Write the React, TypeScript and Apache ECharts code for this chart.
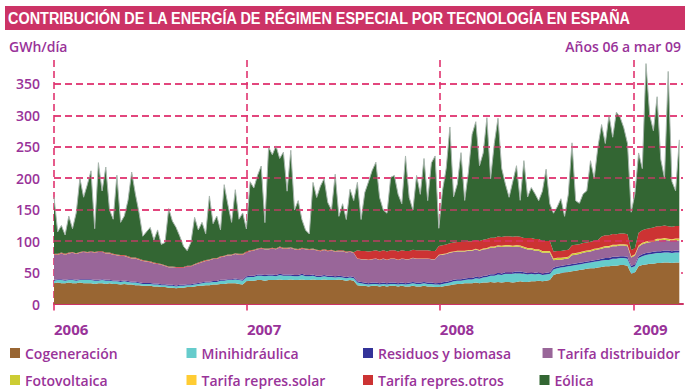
import React, { useEffect, useRef } from "react";
import * as echarts from "echarts";

// Weekly samples starting 2006-01-01
const DAY_MS = 86400000;
const START_MS = Date.UTC(2006, 0, 1);
const WEEK_MS = 7 * DAY_MS;
const X_MAX_DAYS = 1190;
const TITLE = "CONTRIBUCIÓN DE LA ENERGÍA DE RÉGIMEN ESPECIAL POR TECNOLOGÍA EN ESPAÑA";
const UNIT_LABEL = "GWh/día";
const PERIOD_LABEL = "Años 06 a mar 09";

const yearLabels = ["2006", "2007", "2008", "2009"];
const yearStartDays = [0, 365, 730, 1096];
const yTickValues = [0, 50, 100, 150, 200, 250, 300, 350];
const gridLevelsOver = [100, 150, 200, 250, 300, 350];

const seriesNames = [
  "Cogeneración",
  "Minihidráulica",
  "Residuos y biomasa",
  "Tarifa distribuidor",
  "Fotovoltaica",
  "Tarifa repres.solar",
  "Tarifa repres.otros",
  "Eólica",
];
const seriesColors = ["#996633", "#66cccc", "#333399", "#996699", "#cccc33", "#ffcc33", "#cc3333", "#336633"];

const cogeneracion = [
  33, 34, 33, 33, 34, 33, 33, 34, 33, 33,
  33, 32, 33, 33, 32, 33, 32, 32, 31, 32,
  31, 31, 30, 30, 29, 29, 29, 28, 28, 27,
  27, 26, 26, 25, 26, 26, 27, 27, 28, 29,
  29, 30, 30, 31, 31, 32, 32, 33, 33, 33,
  32, 31, 36, 37, 37, 38, 38, 37, 38, 38,
  38, 39, 38, 38, 39, 38, 38, 39, 38, 38,
  39, 38, 38, 39, 38, 38, 38, 39, 38, 37,
  38, 37, 30, 29, 29, 28, 29, 29, 28, 29,
  28, 29, 29, 28, 29, 28, 28, 29, 28, 28,
  29, 28, 28, 27, 27, 28, 29, 30, 31, 32,
  32, 33, 33, 33, 34, 33, 34, 34, 35, 34,
  35, 34, 35, 35, 34, 35, 36, 35, 35, 36,
  36, 37, 36, 37, 38, 46, 48, 49, 50, 51,
  52, 53, 54, 55, 56, 57, 57, 58, 59, 60,
  60, 61, 61, 62, 62, 61, 48, 50, 60, 62,
  63, 64, 64, 65, 65, 66, 66, 65, 66, 66,
];

const minihidraulica = [
  4, 4, 5, 4, 4, 5, 4, 4, 5, 5,
  5, 5, 4, 5, 5, 4, 4, 4, 4, 4,
  4, 3, 4, 3, 3, 3, 3, 3, 3, 3,
  3, 3, 3, 3, 3, 3, 3, 3, 3, 3,
  4, 4, 4, 4, 4, 5, 5, 5, 5, 6,
  6, 6, 6, 6, 6, 7, 7, 7, 7, 7,
  6, 7, 7, 7, 6, 6, 6, 7, 6, 6,
  6, 5, 5, 5, 5, 5, 4, 4, 4, 4,
  4, 4, 4, 4, 3, 3, 3, 3, 3, 3,
  3, 3, 3, 3, 3, 3, 4, 4, 4, 4,
  4, 4, 4, 4, 4, 4, 4, 4, 5, 5,
  5, 5, 6, 6, 7, 7, 8, 9, 10, 11,
  12, 12, 13, 13, 14, 14, 13, 13, 12, 12,
  11, 11, 10, 10, 10, 9, 9, 9, 9, 9,
  9, 9, 9, 9, 9, 9, 10, 10, 10, 10,
  10, 11, 11, 11, 11, 11, 10, 10, 13, 14,
  15, 15, 16, 16, 16, 16, 16, 16, 16, 16,
];

const residuos = [
  1.5, 1.5, 1.5, 1.5, 1.5, 1.5, 1.5, 1.5, 1.5, 1.5,
  1.5, 1.5, 1.5, 1.5, 1.5, 1.5, 1.5, 1.5, 1.5, 1.5,
  1.5, 1.5, 1.5, 1.5, 1.5, 1.5, 1.5, 1.5, 1.5, 1.5,
  1.5, 1.5, 1.5, 1.5, 1.5, 1.5, 1.5, 1.5, 1.5, 1.5,
  1.5, 1.5, 1.5, 1.5, 1.5, 1.5, 1.5, 1.5, 1.5, 1.5,
  1.5, 1.5, 2, 2, 2, 2, 2, 2, 2, 2,
  2, 2, 2, 2, 2, 2, 2, 2, 2, 2,
  2, 2, 2, 2, 2, 2, 2, 2, 2, 2,
  2, 2, 2, 2, 2, 2, 2, 2, 2, 2,
  2, 2, 2, 2, 2, 2, 2, 2, 2, 2,
  2, 2, 2, 2, 2.5, 2.5, 2.5, 2.5, 2.5, 2.5,
  2.5, 2.5, 2.5, 2.5, 2.5, 2.5, 2.5, 2.5, 2.5, 2.5,
  2.5, 2.5, 2.5, 2.5, 2.5, 2.5, 2.5, 2.5, 2.5, 2.5,
  2.5, 2.5, 2.5, 2.5, 2.5, 2.5, 2.5, 2.5, 2.5, 2.5,
  2.5, 2.5, 2.5, 2.5, 2.5, 2.5, 2.5, 2.5, 3, 3,
  3, 3, 3, 3, 3, 3, 3, 3, 3, 3,
  3, 3, 3, 3, 3, 3, 3, 3, 3, 3,
];

const tarifaDistribuidor = [
  40, 39, 41, 40, 41, 42, 41, 42, 43, 42,
  43, 43, 44, 43, 42, 42, 41, 40, 40, 39,
  38, 37, 37, 36, 35, 34, 33, 32, 31, 31,
  29, 28, 28, 28, 27, 27, 28, 28, 30, 31,
  32, 33, 34, 35, 35, 36, 37, 38, 38, 39,
  39, 40, 38, 39, 40, 40, 41, 41, 40, 41,
  41, 42, 41, 41, 42, 41, 40, 40, 41, 40,
  40, 40, 39, 40, 39, 40, 39, 39, 40, 39,
  39, 38, 36, 36, 37, 37, 37, 38, 37, 38,
  37, 38, 38, 37, 38, 38, 37, 38, 38, 38,
  37, 38, 37, 38, 44, 44, 44, 45, 44, 44,
  44, 43, 43, 43, 43, 42, 42, 42, 42, 42,
  42, 42, 41, 41, 40, 40, 39, 38, 37, 36,
  35, 34, 33, 32, 31, 12, 11, 10, 10, 10,
  14, 14, 14, 15, 15, 15, 16, 16, 16, 17,
  17, 17, 17, 17, 17, 17, 13, 14, 15, 16,
  16, 16, 16, 17, 17, 17, 16, 16, 16, 16,
];

const fotovoltaica = [
  0.2, 0.2, 0.2, 0.2, 0.2, 0.2, 0.2, 0.2, 0.2, 0.2,
  0.2, 0.2, 0.2, 0.2, 0.2, 0.2, 0.2, 0.2, 0.2, 0.2,
  0.2, 0.2, 0.2, 0.2, 0.2, 0.2, 0.2, 0.2, 0.2, 0.2,
  0.2, 0.2, 0.2, 0.2, 0.2, 0.2, 0.2, 0.2, 0.2, 0.2,
  0.2, 0.2, 0.2, 0.2, 0.2, 0.2, 0.2, 0.2, 0.2, 0.2,
  0.2, 0.2, 0.3, 0.3, 0.3, 0.3, 0.3, 0.3, 0.3, 0.3,
  0.3, 0.3, 0.3, 0.3, 0.3, 0.3, 0.3, 0.3, 0.3, 0.3,
  0.3, 0.3, 0.3, 0.3, 0.3, 0.3, 0.3, 0.3, 0.3, 0.3,
  0.3, 0.3, 0.3, 0.3, 0.3, 0.3, 0.3, 0.3, 0.3, 0.3,
  0.3, 0.3, 0.3, 0.3, 0.3, 0.3, 0.3, 0.3, 0.3, 0.3,
  0.3, 0.3, 0.3, 0.3, 0.5, 0.5, 0.6, 0.6, 0.7, 0.7,
  0.8, 0.8, 0.9, 1.0, 1.0, 1.1, 1.2, 1.3, 1.4, 1.5,
  1.6, 1.7, 1.8, 1.8, 1.9, 2.0, 2.0, 2.1, 2.2, 2.2,
  2.3, 2.3, 2.4, 2.4, 2.4, 2.5, 2.5, 2.5, 2.5, 2.4,
  2.4, 2.3, 2.2, 2.1, 2.0, 1.9, 1.8, 1.8, 1.7, 1.7,
  1.6, 1.6, 1.5, 1.5, 1.5, 1.5, 1.4, 1.5, 1.6, 1.7,
  1.7, 1.8, 1.9, 2.0, 2.1, 2.2, 2.2, 2.3, 2.4, 2.5,
];

const tarifaSolar = [
  0.1, 0.1, 0.1, 0.1, 0.1, 0.1, 0.1, 0.1, 0.1, 0.1,
  0.1, 0.1, 0.1, 0.1, 0.1, 0.1, 0.1, 0.1, 0.1, 0.1,
  0.1, 0.1, 0.1, 0.1, 0.1, 0.1, 0.1, 0.1, 0.1, 0.1,
  0.1, 0.1, 0.1, 0.1, 0.1, 0.1, 0.1, 0.1, 0.1, 0.1,
  0.1, 0.1, 0.1, 0.1, 0.1, 0.1, 0.1, 0.1, 0.1, 0.1,
  0.1, 0.1, 0.1, 0.1, 0.1, 0.1, 0.1, 0.1, 0.1, 0.1,
  0.1, 0.1, 0.1, 0.1, 0.1, 0.1, 0.1, 0.1, 0.1, 0.1,
  0.1, 0.1, 0.1, 0.1, 0.1, 0.1, 0.1, 0.1, 0.1, 0.1,
  0.1, 0.1, 0.1, 0.1, 0.1, 0.1, 0.1, 0.1, 0.1, 0.1,
  0.1, 0.1, 0.1, 0.1, 0.1, 0.1, 0.1, 0.1, 0.1, 0.1,
  0.1, 0.1, 0.1, 0.1, 0.4, 0.4, 0.4, 0.4, 0.4, 0.4,
  0.4, 0.4, 0.4, 0.4, 0.4, 0.4, 0.4, 0.4, 0.4, 0.4,
  0.4, 0.4, 0.4, 0.4, 0.4, 0.4, 0.4, 0.4, 0.4, 0.4,
  0.4, 0.4, 0.4, 0.4, 0.4, 0.4, 0.4, 0.4, 0.4, 0.4,
  0.4, 0.4, 0.4, 0.4, 0.4, 0.4, 0.4, 0.4, 0.6, 0.6,
  0.6, 0.6, 0.6, 0.6, 0.6, 0.6, 0.6, 0.6, 0.6, 0.6,
  0.6, 0.6, 0.6, 0.6, 0.6, 0.6, 0.6, 0.6, 0.6, 0.6,
];

const tarifaOtros = [
  1, 1, 1, 1, 1, 1, 1, 1, 1, 1,
  1, 1, 1, 1, 1, 1, 1, 1, 1, 1,
  1, 1, 1, 1, 1, 1, 1, 1, 1, 1,
  1, 1, 1, 1, 1, 1, 1, 1, 1, 1,
  1, 1, 1, 1, 1, 1, 1, 1, 1, 1,
  1, 1, 1, 1, 1, 1, 1, 1, 1, 1,
  1, 1, 1, 1, 1, 1, 1, 1, 1, 1,
  1, 1, 1, 1, 1, 1, 1, 1, 1, 1,
  1, 1, 13, 13, 13, 13, 13, 13, 13, 13,
  13, 13, 13, 13, 13, 13, 13, 13, 13, 13,
  13, 13, 13, 13, 14, 14, 14, 14, 14, 14,
  14, 14, 14, 14, 14, 14, 14, 14, 14, 14,
  14, 14, 14, 14, 14, 14, 14, 14, 16, 16,
  16, 16, 16, 16, 16, 11, 11, 11, 11, 11,
  13, 13, 13, 13, 13, 13, 13, 13, 17, 17,
  17, 17, 17, 17, 17, 17, 10, 10, 20, 20,
  20, 20, 20, 20, 20, 20, 20, 20, 20, 20,
];

const eolica = [
  90, 35, 43, 30, 58, 37, 64, 117, 86, 107,
  128, 37, 141, 96, 136, 68, 55, 126, 52, 62,
  89, 136, 101, 73, 38, 46, 54, 36, 53, 31,
  36, 92, 72, 63, 49, 33, 24, 37, 74, 52,
  62, 42, 101, 55, 67, 42, 113, 79, 51, 101,
  55, 65, 36, 109, 98, 116, 130, 41, 161, 148,
  163, 140, 152, 90, 154, 61, 77, 45, 29, 24,
  105, 83, 102, 112, 76, 63, 122, 54, 74, 51,
  98, 82, 108, 50, 93, 111, 128, 140, 86, 64,
  61, 116, 119, 91, 74, 151, 85, 63, 119, 89,
  146, 79, 140, 151, 28, 87, 121, 185, 73, 92,
  142, 66, 110, 170, 188, 120, 138, 193, 94, 150,
  188, 109, 83, 62, 88, 112, 58, 123, 65, 80,
  72, 61, 79, 114, 59, 61, 70, 83, 54, 88,
  163, 70, 65, 78, 82, 129, 99, 148, 178, 146,
  191, 154, 194, 185, 168, 144, 60, 86, 127, 98,
  263, 180, 154, 206, 106, 75, 246, 72, 56, 137,
];

const seriesValues = [
  cogeneracion,
  minihidraulica,
  residuos,
  tarifaDistribuidor,
  fotovoltaica,
  tarifaSolar,
  tarifaOtros,
  eolica,
];

const PINK = "#e0336f";
const PURPLE = "#993399";
const FONT = '"Open Sans", "Noto Sans", sans-serif';
const DASH = [7, 4];

export default function App() {
  const ref = useRef<HTMLDivElement>(null);

  useEffect(() => {
    if (!ref.current) return;
    const chart = echarts.init(ref.current, undefined, { renderer: "svg" });

    const areaSeries: any[] = seriesValues.map((vals, si) => {
      const isTop = si === seriesValues.length - 1;
      const s: any = {
        name: seriesNames[si],
        type: "line",
        stack: "total",
        xAxisIndex: 0,
        data: vals.map((v, i) => [START_MS + i * WEEK_MS, v]),
        symbol: "none",
        showSymbol: false,
        smooth: false,
        z: 2,
        itemStyle: { color: seriesColors[si] },
        lineStyle: isTop ? { width: 1, color: "#a9b6ae" } : { width: 0, color: seriesColors[si] },
        areaStyle: { color: seriesColors[si], opacity: 1 },
        emphasis: { disabled: true },
      };
      if (isTop) {
        s.markLine = {
          silent: true,
          symbol: "none",
          animation: false,
          label: { show: false },
          lineStyle: { color: PINK, type: DASH, width: 1.6, opacity: 0.8 },
          data: gridLevelsOver.map((v) => ({ yAxis: v })),
        };
      }
      return s;
    });

    const legendText = {
      color: PURPLE,
      fontSize: 14,
      fontFamily: FONT,
      fontWeight: 600,
      width: 130,
      lineHeight: 16,
    };
    const legendBase = {
      left: 10,
      width: 680,
      padding: 0,
      orient: "horizontal",
      icon: "rect",
      itemWidth: 10,
      itemHeight: 10,
      itemGap: 31.5,
      selectedMode: false,
      textStyle: legendText,
    };

    chart.setOption({
      animation: false,
      backgroundColor: "#ffffff",
      grid: { left: 54, right: 2, top: 60, bottom: 88, containLabel: false },
      xAxis: [
        {
          type: "time",
          min: START_MS,
          max: START_MS + X_MAX_DAYS * DAY_MS,
          show: false,
        },
        {
          type: "value",
          position: "bottom",
          min: 0,
          max: X_MAX_DAYS,
          interval: 365,
          axisLine: { show: true, onZero: false, lineStyle: { color: "#cc3366", width: 2 } },
          axisTick: {
            show: true,
            customValues: yearStartDays,
            length: 8,
            lineStyle: { color: PINK, type: "dashed", width: 1.6 },
          },
          splitLine: {
            show: true,
            lineStyle: { color: PINK, type: DASH, width: 1.6 },
          },
          axisLabel: {
            customValues: yearStartDays,
            formatter: (v: number) => {
              const idx = yearStartDays.indexOf(v);
              return idx >= 0 ? yearLabels[idx] : "";
            },
            align: "left",
            margin: 17,
            color: PURPLE,
            fontSize: 15,
            fontWeight: "bold",
            fontFamily: FONT,
          },
        },
      ],
      yAxis: {
        type: "value",
        min: 0,
        max: 388,
        interval: 50,
        axisLine: { show: false },
        axisTick: { show: false },
        splitLine: {
          show: true,
          showMinLine: false,
          showMaxLine: false,
          lineStyle: { color: PINK, type: DASH, width: 1.6 },
        },
        axisLabel: {
          customValues: yTickValues,
          formatter: (v: number) => (yTickValues.indexOf(v) >= 0 ? String(v) : ""),
          margin: 14,
          color: PURPLE,
          fontSize: 14,
          fontWeight: 600,
          fontFamily: FONT,
        },
      },
      legend: [
        { ...legendBase, data: seriesNames.slice(0, 4), top: 345 },
        { ...legendBase, data: seriesNames.slice(4, 8), top: 372 },
      ],
      graphic: [
        {
          type: "rect",
          shape: { x: 5, y: 6, width: 680, height: 24 },
          style: { fill: "#cc3366" },
          silent: true,
        },
        {
          type: "text",
          x: 8,
          y: 18.5,
          scaleX: 0.85,
          style: {
            text: TITLE,
            fill: "#ffffff",
            font: 'bold 17px "Liberation Sans", Arial, sans-serif',
            verticalAlign: "middle",
            align: "left",
          },
          silent: true,
        },
        {
          type: "text",
          x: 9,
          y: 46,
          style: {
            text: UNIT_LABEL,
            fill: PURPLE,
            font: '600 14px "Open Sans", sans-serif',
            verticalAlign: "middle",
            align: "left",
          },
          silent: true,
        },
        {
          type: "text",
          x: 681,
          y: 46,
          style: {
            text: PERIOD_LABEL,
            fill: PURPLE,
            font: '600 14px "Open Sans", sans-serif',
            verticalAlign: "middle",
            align: "right",
          },
          silent: true,
        },
      ],
      series: areaSeries,
    });

    return () => chart.dispose();
  }, []);

  return (
    <div
      ref={ref}
      style={{ position: "fixed", left: 0, top: 0, width: 685, height: 392 }}
    />
  );
}
